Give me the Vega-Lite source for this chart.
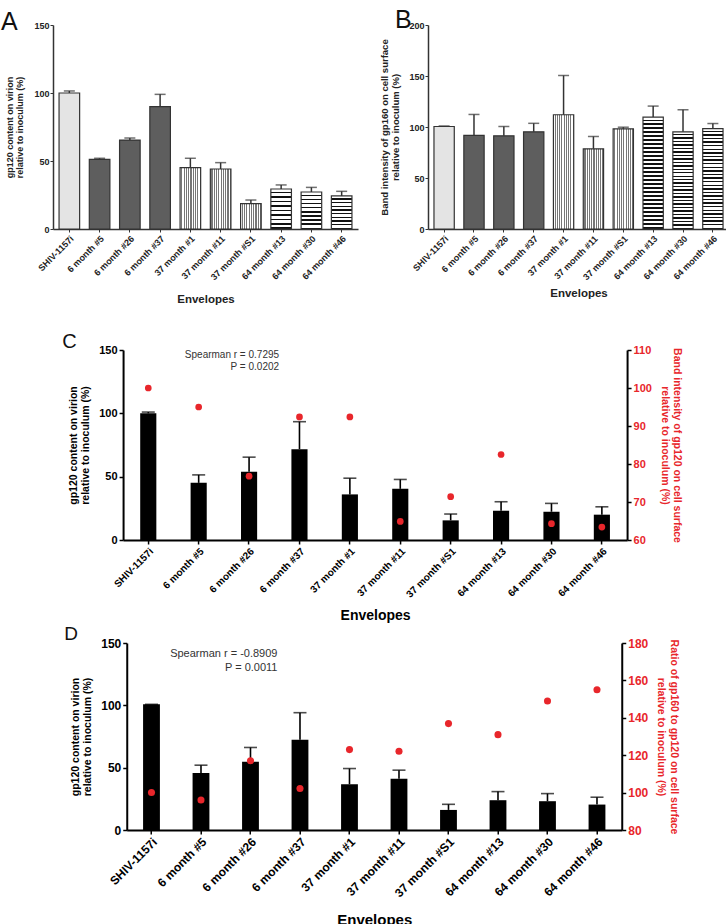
{
  "$schema": "https://vega.github.io/schema/vega-lite/v6.json",
  "background": "white",
  "padding": {"left": 0, "top": 8, "right": 0, "bottom": 0},
  "config": {"view": {"stroke": null}, "font": "Liberation Sans", "axis": {"grid": false}},
  "datasets": {
    "panelA": [
      {"env": "SHIV-1157i", "group": "SHIV", "value": 100, "upper": 101.5},
      {"env": "6 month #5", "group": "6 month", "value": 51.2, "upper": 52},
      {"env": "6 month #26", "group": "6 month", "value": 65.4, "upper": 66.9},
      {"env": "6 month #37", "group": "6 month", "value": 90, "upper": 99},
      {"env": "37 month #1", "group": "37 month", "value": 45.1, "upper": 52},
      {"env": "37 month #11", "group": "37 month", "value": 44.1, "upper": 48.8},
      {"env": "37 month #S1", "group": "37 month", "value": 18.6, "upper": 21.3},
      {"env": "64 month #13", "group": "64 month", "value": 29.4, "upper": 32.4},
      {"env": "64 month #30", "group": "64 month", "value": 27.2, "upper": 30.6},
      {"env": "64 month #46", "group": "64 month", "value": 24.3, "upper": 27.7}
    ],
    "panelB": [
      {"env": "SHIV-1157i", "group": "SHIV", "value": 100.5, "upper": 101},
      {"env": "6 month #5", "group": "6 month", "value": 91.7, "upper": 112.3},
      {"env": "6 month #26", "group": "6 month", "value": 91.3, "upper": 100.5},
      {"env": "6 month #37", "group": "6 month", "value": 95.3, "upper": 103.6},
      {"env": "37 month #1", "group": "37 month", "value": 112, "upper": 150.5},
      {"env": "37 month #11", "group": "37 month", "value": 78.6, "upper": 90.7},
      {"env": "37 month #S1", "group": "37 month", "value": 98.2, "upper": 99.8},
      {"env": "64 month #13", "group": "64 month", "value": 109.7, "upper": 120.5},
      {"env": "64 month #30", "group": "64 month", "value": 95.3, "upper": 116.9},
      {"env": "64 month #46", "group": "64 month", "value": 98.5, "upper": 103.4}
    ],
    "panelC": [
      {"env": "SHIV-1157i", "value": 100, "upper": 101, "red": 100},
      {"env": "6 month #5", "value": 45.1, "upper": 51.4, "red": 95},
      {"env": "6 month #26", "value": 53.8, "upper": 65.4, "red": 76.8},
      {"env": "6 month #37", "value": 71.7, "upper": 93.4, "red": 92.4},
      {"env": "37 month #1", "value": 36, "upper": 48.8, "red": 92.4},
      {"env": "37 month #11", "value": 40.4, "upper": 47.8, "red": 64.9},
      {"env": "37 month #S1", "value": 15.5, "upper": 20.5, "red": 71.4},
      {"env": "64 month #13", "value": 23.1, "upper": 30.2, "red": 82.5},
      {"env": "64 month #30", "value": 22.3, "upper": 28.9, "red": 64.3},
      {"env": "64 month #46", "value": 20, "upper": 26.2, "red": 63.4}
    ],
    "panelD": [
      {"env": "SHIV-1157i", "value": 100.8, "upper": 100.8, "red": 100.1},
      {"env": "6 month #5", "value": 45.8, "upper": 52, "red": 96},
      {"env": "6 month #26", "value": 54.7, "upper": 66.2, "red": 117},
      {"env": "6 month #37", "value": 72.4, "upper": 94.1, "red": 102.2},
      {"env": "37 month #1", "value": 36.7, "upper": 49.3, "red": 123},
      {"env": "37 month #11", "value": 41.2, "upper": 48, "red": 122.1},
      {"env": "37 month #S1", "value": 16.1, "upper": 20.6, "red": 136.9},
      {"env": "64 month #13", "value": 23.9, "upper": 30.8, "red": 131},
      {"env": "64 month #30", "value": 23.1, "upper": 29.2, "red": 149},
      {"env": "64 month #46", "value": 20.4, "upper": 26.3, "red": 155}
    ]
  },
  "spacing": 26,
  "center": false,
  "vconcat": [
    {
      "spacing": 21,
      "hconcat": [
        {
          "width": 305, "height": 204,
          "title": {"text": "A", "anchor": "start", "frame": "bounds", "fontSize": 25, "fontWeight": "normal", "color": "#111", "offset": -14, "dx": -5},
          "data": {"name": "panelA"},
          "encoding": {
            "x": {"field": "env", "type": "nominal",
              "scale": {"domain": ["SHIV-1157i","6 month #5","6 month #26","6 month #37","37 month #1","37 month #11","37 month #S1","64 month #13","64 month #30","64 month #46"], "paddingInner": 0.32, "paddingOuter": 0.2},
              "axis": {"title": "Envelopes", "labelAngle": -45, "labelFontSize": 9, "labelFontWeight": "bold", "labelColor": "#222", "labelPadding": 2, "tickSize": 3, "tickColor": "#333", "domainColor": "#333", "domainWidth": 1.5, "titleFontSize": 11.5, "titleFontWeight": "bold", "titleColor": "#222", "titlePadding": 12}},
            "y": {"field": "value", "type": "quantitative", "scale": {"domain": [0, 150], "nice": false},
              "axis": {"title": ["gp120 content on virion", "relative to inoculum (%)"], "values": [0, 50, 100, 150], "labelFontSize": 9, "labelFontWeight": "bold", "labelColor": "#222", "labelPadding": 1, "tickSize": 3, "tickColor": "#333", "domainColor": "#333", "domainWidth": 1.5, "titleFontSize": 9, "titleLineHeight": 10, "titleFontWeight": "bold", "titleColor": "#222", "titlePadding": 9}}
          },
          "layer": [
            {"transform": [{"filter": "datum.group === 'SHIV'"}], "mark": {"type": "bar", "fill": "#e4e4e4", "stroke": "#333", "strokeWidth": 1.2}},
            {"transform": [{"filter": "datum.group === '6 month'"}], "mark": {"type": "bar", "fill": "#5e5e5e", "stroke": "#333", "strokeWidth": 1.2}},
            {"transform": [{"filter": "datum.group === '37 month'"}], "mark": {"type": "bar", "stroke": "#333", "strokeWidth": 1.2,
              "fill": {"gradient": "linear", "x1": 0, "y1": 0, "x2": 1, "y2": 0, "stops": [
                {"offset": 0, "color": "#fff"}, {"offset": 0.0556, "color": "#fff"}, {"offset": 0.0556, "color": "#777"}, {"offset": 0.1111, "color": "#777"},
                {"offset": 0.1111, "color": "#fff"}, {"offset": 0.1667, "color": "#fff"}, {"offset": 0.1667, "color": "#777"}, {"offset": 0.2222, "color": "#777"},
                {"offset": 0.2222, "color": "#fff"}, {"offset": 0.2778, "color": "#fff"}, {"offset": 0.2778, "color": "#777"}, {"offset": 0.3333, "color": "#777"},
                {"offset": 0.3333, "color": "#fff"}, {"offset": 0.3889, "color": "#fff"}, {"offset": 0.3889, "color": "#777"}, {"offset": 0.4444, "color": "#777"},
                {"offset": 0.4444, "color": "#fff"}, {"offset": 0.5, "color": "#fff"}, {"offset": 0.5, "color": "#777"}, {"offset": 0.5556, "color": "#777"},
                {"offset": 0.5556, "color": "#fff"}, {"offset": 0.6111, "color": "#fff"}, {"offset": 0.6111, "color": "#777"}, {"offset": 0.6667, "color": "#777"},
                {"offset": 0.6667, "color": "#fff"}, {"offset": 0.7222, "color": "#fff"}, {"offset": 0.7222, "color": "#777"}, {"offset": 0.7778, "color": "#777"},
                {"offset": 0.7778, "color": "#fff"}, {"offset": 0.8333, "color": "#fff"}, {"offset": 0.8333, "color": "#777"}, {"offset": 0.8889, "color": "#777"},
                {"offset": 0.8889, "color": "#fff"}, {"offset": 0.9444, "color": "#fff"}, {"offset": 0.9444, "color": "#777"}, {"offset": 1, "color": "#777"}]}}},
            {"transform": [{"filter": "datum.group === '64 month'"}], "mark": {"type": "bar", "stroke": "#333", "strokeWidth": 1.2,
              "fill": {"gradient": "linear", "x1": 0, "y1": 0, "x2": 0, "y2": 1, "stops": [
                {"offset": 0, "color": "#fff"}, {"offset": 0.0722, "color": "#fff"}, {"offset": 0.0722, "color": "#111"}, {"offset": 0.1111, "color": "#111"},
                {"offset": 0.1111, "color": "#fff"}, {"offset": 0.1833, "color": "#fff"}, {"offset": 0.1833, "color": "#111"}, {"offset": 0.2222, "color": "#111"},
                {"offset": 0.2222, "color": "#fff"}, {"offset": 0.2944, "color": "#fff"}, {"offset": 0.2944, "color": "#111"}, {"offset": 0.3333, "color": "#111"},
                {"offset": 0.3333, "color": "#fff"}, {"offset": 0.4056, "color": "#fff"}, {"offset": 0.4056, "color": "#111"}, {"offset": 0.4444, "color": "#111"},
                {"offset": 0.4444, "color": "#fff"}, {"offset": 0.5167, "color": "#fff"}, {"offset": 0.5167, "color": "#111"}, {"offset": 0.5556, "color": "#111"},
                {"offset": 0.5556, "color": "#fff"}, {"offset": 0.6278, "color": "#fff"}, {"offset": 0.6278, "color": "#111"}, {"offset": 0.6667, "color": "#111"},
                {"offset": 0.6667, "color": "#fff"}, {"offset": 0.7389, "color": "#fff"}, {"offset": 0.7389, "color": "#111"}, {"offset": 0.7778, "color": "#111"},
                {"offset": 0.7778, "color": "#fff"}, {"offset": 0.85, "color": "#fff"}, {"offset": 0.85, "color": "#111"}, {"offset": 0.8889, "color": "#111"},
                {"offset": 0.8889, "color": "#fff"}, {"offset": 0.9611, "color": "#fff"}, {"offset": 0.9611, "color": "#111"}, {"offset": 1, "color": "#111"}]}}},
            {"mark": {"type": "rule", "color": "#333", "strokeWidth": 1.5}, "encoding": {"y2": {"field": "upper"}}},
            {"mark": {"type": "tick", "color": "#333", "thickness": 1.5, "size": 11}, "encoding": {"y": {"field": "upper", "type": "quantitative"}}}
          ]
        },
        {
          "width": 301, "height": 204,
          "title": {"text": "B", "anchor": "start", "frame": "bounds", "fontSize": 25, "fontWeight": "normal", "color": "#111", "offset": -12, "dx": 15},
          "data": {"name": "panelB"},
          "encoding": {
            "x": {"field": "env", "type": "nominal",
              "scale": {"domain": ["SHIV-1157i","6 month #5","6 month #26","6 month #37","37 month #1","37 month #11","37 month #S1","64 month #13","64 month #30","64 month #46"], "paddingInner": 0.32, "paddingOuter": 0.2},
              "axis": {"title": "Envelopes", "labelAngle": -45, "labelFontSize": 9, "labelFontWeight": "bold", "labelColor": "#222", "labelPadding": 2, "tickSize": 3, "tickColor": "#333", "domainColor": "#333", "domainWidth": 1.5, "titleFontSize": 11.5, "titleFontWeight": "bold", "titleColor": "#222", "titlePadding": 6}},
            "y": {"field": "value", "type": "quantitative", "scale": {"domain": [0, 200], "nice": false},
              "axis": {"title": ["Band intensity of gp160 on cell surface", "relative to inoculum (%)"], "values": [0, 50, 100, 150, 200], "labelFontSize": 9, "labelFontWeight": "bold", "labelColor": "#222", "labelPadding": 1, "tickSize": 3, "tickColor": "#333", "domainColor": "#333", "domainWidth": 1.5, "titleFontSize": 9.5, "titleLineHeight": 11, "titleFontWeight": "bold", "titleColor": "#222", "titlePadding": 8}}
          },
          "layer": [
            {"transform": [{"filter": "datum.group === 'SHIV'"}], "mark": {"type": "bar", "fill": "#e4e4e4", "stroke": "#333", "strokeWidth": 1.2}},
            {"transform": [{"filter": "datum.group === '6 month'"}], "mark": {"type": "bar", "fill": "#5e5e5e", "stroke": "#333", "strokeWidth": 1.2}},
            {"transform": [{"filter": "datum.group === '37 month'"}], "mark": {"type": "bar", "stroke": "#333", "strokeWidth": 1.2,
              "fill": {"gradient": "linear", "x1": 0, "y1": 0, "x2": 1, "y2": 0, "stops": [
                {"offset": 0, "color": "#fff"}, {"offset": 0.0556, "color": "#fff"}, {"offset": 0.0556, "color": "#777"}, {"offset": 0.1111, "color": "#777"},
                {"offset": 0.1111, "color": "#fff"}, {"offset": 0.1667, "color": "#fff"}, {"offset": 0.1667, "color": "#777"}, {"offset": 0.2222, "color": "#777"},
                {"offset": 0.2222, "color": "#fff"}, {"offset": 0.2778, "color": "#fff"}, {"offset": 0.2778, "color": "#777"}, {"offset": 0.3333, "color": "#777"},
                {"offset": 0.3333, "color": "#fff"}, {"offset": 0.3889, "color": "#fff"}, {"offset": 0.3889, "color": "#777"}, {"offset": 0.4444, "color": "#777"},
                {"offset": 0.4444, "color": "#fff"}, {"offset": 0.5, "color": "#fff"}, {"offset": 0.5, "color": "#777"}, {"offset": 0.5556, "color": "#777"},
                {"offset": 0.5556, "color": "#fff"}, {"offset": 0.6111, "color": "#fff"}, {"offset": 0.6111, "color": "#777"}, {"offset": 0.6667, "color": "#777"},
                {"offset": 0.6667, "color": "#fff"}, {"offset": 0.7222, "color": "#fff"}, {"offset": 0.7222, "color": "#777"}, {"offset": 0.7778, "color": "#777"},
                {"offset": 0.7778, "color": "#fff"}, {"offset": 0.8333, "color": "#fff"}, {"offset": 0.8333, "color": "#777"}, {"offset": 0.8889, "color": "#777"},
                {"offset": 0.8889, "color": "#fff"}, {"offset": 0.9444, "color": "#fff"}, {"offset": 0.9444, "color": "#777"}, {"offset": 1, "color": "#777"}]}}},
            {"transform": [{"filter": "datum.group === '64 month'"}], "mark": {"type": "bar", "stroke": "#333", "strokeWidth": 1.2,
              "fill": {"gradient": "linear", "x1": 0, "y1": 0, "x2": 0, "y2": 1, "stops": [
                {"offset": 0, "color": "#fff"}, {"offset": 0.0214, "color": "#fff"}, {"offset": 0.0214, "color": "#111"}, {"offset": 0.0357, "color": "#111"},
                {"offset": 0.0357, "color": "#fff"}, {"offset": 0.0571, "color": "#fff"}, {"offset": 0.0571, "color": "#111"}, {"offset": 0.0714, "color": "#111"},
                {"offset": 0.0714, "color": "#fff"}, {"offset": 0.0928, "color": "#fff"}, {"offset": 0.0928, "color": "#111"}, {"offset": 0.1071, "color": "#111"},
                {"offset": 0.1071, "color": "#fff"}, {"offset": 0.1285, "color": "#fff"}, {"offset": 0.1285, "color": "#111"}, {"offset": 0.1429, "color": "#111"},
                {"offset": 0.1429, "color": "#fff"}, {"offset": 0.1643, "color": "#fff"}, {"offset": 0.1643, "color": "#111"}, {"offset": 0.1786, "color": "#111"},
                {"offset": 0.1786, "color": "#fff"}, {"offset": 0.2, "color": "#fff"}, {"offset": 0.2, "color": "#111"}, {"offset": 0.2143, "color": "#111"},
                {"offset": 0.2143, "color": "#fff"}, {"offset": 0.2357, "color": "#fff"}, {"offset": 0.2357, "color": "#111"}, {"offset": 0.25, "color": "#111"},
                {"offset": 0.25, "color": "#fff"}, {"offset": 0.2714, "color": "#fff"}, {"offset": 0.2714, "color": "#111"}, {"offset": 0.2857, "color": "#111"},
                {"offset": 0.2857, "color": "#fff"}, {"offset": 0.3071, "color": "#fff"}, {"offset": 0.3071, "color": "#111"}, {"offset": 0.3214, "color": "#111"},
                {"offset": 0.3214, "color": "#fff"}, {"offset": 0.3428, "color": "#fff"}, {"offset": 0.3428, "color": "#111"}, {"offset": 0.3571, "color": "#111"},
                {"offset": 0.3571, "color": "#fff"}, {"offset": 0.3785, "color": "#fff"}, {"offset": 0.3785, "color": "#111"}, {"offset": 0.3929, "color": "#111"},
                {"offset": 0.3929, "color": "#fff"}, {"offset": 0.4143, "color": "#fff"}, {"offset": 0.4143, "color": "#111"}, {"offset": 0.4286, "color": "#111"},
                {"offset": 0.4286, "color": "#fff"}, {"offset": 0.45, "color": "#fff"}, {"offset": 0.45, "color": "#111"}, {"offset": 0.4643, "color": "#111"},
                {"offset": 0.4643, "color": "#fff"}, {"offset": 0.4857, "color": "#fff"}, {"offset": 0.4857, "color": "#111"}, {"offset": 0.5, "color": "#111"},
                {"offset": 0.5, "color": "#fff"}, {"offset": 0.5214, "color": "#fff"}, {"offset": 0.5214, "color": "#111"}, {"offset": 0.5357, "color": "#111"},
                {"offset": 0.5357, "color": "#fff"}, {"offset": 0.5571, "color": "#fff"}, {"offset": 0.5571, "color": "#111"}, {"offset": 0.5714, "color": "#111"},
                {"offset": 0.5714, "color": "#fff"}, {"offset": 0.5928, "color": "#fff"}, {"offset": 0.5928, "color": "#111"}, {"offset": 0.6071, "color": "#111"},
                {"offset": 0.6071, "color": "#fff"}, {"offset": 0.6285, "color": "#fff"}, {"offset": 0.6285, "color": "#111"}, {"offset": 0.6429, "color": "#111"},
                {"offset": 0.6429, "color": "#fff"}, {"offset": 0.6643, "color": "#fff"}, {"offset": 0.6643, "color": "#111"}, {"offset": 0.6786, "color": "#111"},
                {"offset": 0.6786, "color": "#fff"}, {"offset": 0.7, "color": "#fff"}, {"offset": 0.7, "color": "#111"}, {"offset": 0.7143, "color": "#111"},
                {"offset": 0.7143, "color": "#fff"}, {"offset": 0.7357, "color": "#fff"}, {"offset": 0.7357, "color": "#111"}, {"offset": 0.75, "color": "#111"},
                {"offset": 0.75, "color": "#fff"}, {"offset": 0.7714, "color": "#fff"}, {"offset": 0.7714, "color": "#111"}, {"offset": 0.7857, "color": "#111"},
                {"offset": 0.7857, "color": "#fff"}, {"offset": 0.8071, "color": "#fff"}, {"offset": 0.8071, "color": "#111"}, {"offset": 0.8214, "color": "#111"},
                {"offset": 0.8214, "color": "#fff"}, {"offset": 0.8428, "color": "#fff"}, {"offset": 0.8428, "color": "#111"}, {"offset": 0.8571, "color": "#111"},
                {"offset": 0.8571, "color": "#fff"}, {"offset": 0.8785, "color": "#fff"}, {"offset": 0.8785, "color": "#111"}, {"offset": 0.8929, "color": "#111"},
                {"offset": 0.8929, "color": "#fff"}, {"offset": 0.9143, "color": "#fff"}, {"offset": 0.9143, "color": "#111"}, {"offset": 0.9286, "color": "#111"},
                {"offset": 0.9286, "color": "#fff"}, {"offset": 0.95, "color": "#fff"}, {"offset": 0.95, "color": "#111"}, {"offset": 0.9643, "color": "#111"},
                {"offset": 0.9643, "color": "#fff"}, {"offset": 0.9857, "color": "#fff"}, {"offset": 0.9857, "color": "#111"}, {"offset": 1, "color": "#111"}]}}},
            {"mark": {"type": "rule", "color": "#333", "strokeWidth": 1.5}, "encoding": {"y2": {"field": "upper"}}},
            {"mark": {"type": "tick", "color": "#333", "thickness": 1.5, "size": 11}, "encoding": {"y": {"field": "upper", "type": "quantitative"}}}
          ]
        }
      ]
    },
    {
      "spacing": 1,
      "hconcat": [
        {"width": 8, "height": 10, "data": {"values": []}, "mark": "point"},
        {
          "spacing": 2,
          "center": true,
          "vconcat": [
            {
              "width": 504, "height": 190,
              "title": {"text": "C", "anchor": "start", "frame": "bounds", "fontSize": 20, "fontWeight": "normal", "color": "#111", "offset": -8, "dx": -6},
              "data": {"name": "panelC"},
              "encoding": {
                "x": {"field": "env", "type": "nominal",
                  "scale": {"domain": ["SHIV-1157i","6 month #5","6 month #26","6 month #37","37 month #1","37 month #11","37 month #S1","64 month #13","64 month #30","64 month #46"], "paddingInner": 0.68, "paddingOuter": 0.34},
                  "axis": {"title": "Envelopes", "labelAngle": -45, "labelFontSize": 10, "labelFontWeight": "bold", "labelColor": "#000", "labelPadding": 2, "tickSize": 4, "tickWidth": 1.5, "tickColor": "#000", "domainColor": "#000", "domainWidth": 2, "titleFontSize": 14, "titleFontWeight": "bold", "titleColor": "#000", "titlePadding": 9}}
              },
              "layer": [
                {
                  "layer": [
                    {"mark": {"type": "bar", "fill": "#000"},
                     "encoding": {"y": {"field": "value", "type": "quantitative", "scale": {"domain": [0, 150], "nice": false},
                       "axis": {"title": ["gp120 content on virion", "relative to inoculum (%)"], "values": [0, 50, 100, 150], "labelFontSize": 11, "labelFontWeight": "bold", "labelColor": "#000", "labelPadding": 2, "tickSize": 4, "tickWidth": 1.5, "tickColor": "#000", "domainColor": "#000", "domainWidth": 2, "titleFontSize": 10.5, "titleFontWeight": "bold", "titleColor": "#000", "titlePadding": 8}}}},
                    {"mark": {"type": "rule", "color": "#000", "strokeWidth": 1.6},
                     "encoding": {"y": {"field": "value", "type": "quantitative"}, "y2": {"field": "upper"}}},
                    {"mark": {"type": "tick", "color": "#000", "thickness": 1.6, "size": 13},
                     "encoding": {"y": {"field": "upper", "type": "quantitative"}}},
                    {"data": {"values": [{"note": "Spearman r = 0.7295\nP = 0.0202"}]},
                     "mark": {"type": "text", "align": "right", "baseline": "top", "lineBreak": "\n", "lineHeight": 12, "dx": 30, "fontSize": 10, "color": "#333"},
                     "encoding": {"x": {"datum": "6 month #26", "type": "nominal"}, "y": {"datum": 150, "type": "quantitative"}, "text": {"field": "note"}}}
                  ]
                },
                {"mark": {"type": "circle", "size": 45, "color": "#e8262b", "opacity": 1},
                 "encoding": {"y": {"field": "red", "type": "quantitative", "scale": {"domain": [60, 110], "nice": false},
                   "axis": {"orient": "right", "title": ["Band intensity of gp120 on cell surface", "relative to inoculum (%)"], "values": [60, 70, 80, 90, 100, 110], "labelFontSize": 11, "labelFontWeight": "bold", "labelColor": "#e8262b", "labelPadding": 2, "tickSize": 4, "tickWidth": 1.5, "tickColor": "#000", "domainColor": "#000", "domainWidth": 2, "titleFontSize": 10.5, "titleFontWeight": "bold", "titleColor": "#e8262b", "titlePadding": 8}}}}
              ],
              "resolve": {"scale": {"y": "independent"}}
            },
            {
              "width": 495, "height": 187,
              "title": {"text": "D", "anchor": "start", "frame": "bounds", "fontSize": 19, "fontWeight": "normal", "color": "#111", "offset": -7, "dx": -6},
              "data": {"name": "panelD"},
              "encoding": {
                "x": {"field": "env", "type": "nominal",
                  "scale": {"domain": ["SHIV-1157i","6 month #5","6 month #26","6 month #37","37 month #1","37 month #11","37 month #S1","64 month #13","64 month #30","64 month #46"], "paddingInner": 0.66, "paddingOuter": 0.33},
                  "axis": {"title": "Envelopes", "labelAngle": -45, "labelFontSize": 12, "labelFontWeight": "bold", "labelColor": "#000", "labelPadding": 2, "tickSize": 4, "tickWidth": 1.5, "tickColor": "#000", "domainColor": "#000", "domainWidth": 2, "titleFontSize": 15, "titleFontWeight": "bold", "titleColor": "#000", "titlePadding": 14}}
              },
              "layer": [
                {
                  "layer": [
                    {"mark": {"type": "bar", "fill": "#000"},
                     "encoding": {"y": {"field": "value", "type": "quantitative", "scale": {"domain": [0, 150], "nice": false},
                       "axis": {"title": ["gp120 content on virion", "relative to inoculum (%)"], "values": [0, 50, 100, 150], "labelFontSize": 12, "labelFontWeight": "bold", "labelColor": "#000", "labelPadding": 2, "tickSize": 4, "tickWidth": 1.5, "tickColor": "#000", "domainColor": "#000", "domainWidth": 2, "titleFontSize": 10.5, "titleFontWeight": "bold", "titleColor": "#000", "titlePadding": 8}}}},
                    {"mark": {"type": "rule", "color": "#000", "strokeWidth": 1.6},
                     "encoding": {"y": {"field": "value", "type": "quantitative"}, "y2": {"field": "upper"}}},
                    {"mark": {"type": "tick", "color": "#000", "thickness": 1.6, "size": 13},
                     "encoding": {"y": {"field": "upper", "type": "quantitative"}}},
                    {"data": {"values": [{"note": "Spearman r = -0.8909\nP = 0.0011"}]},
                     "mark": {"type": "text", "align": "right", "baseline": "top", "lineBreak": "\n", "lineHeight": 14, "dx": 27, "fontSize": 11, "color": "#333"},
                     "encoding": {"x": {"datum": "6 month #26", "type": "nominal"}, "y": {"datum": 146, "type": "quantitative"}, "text": {"field": "note"}}}
                  ]
                },
                {"mark": {"type": "circle", "size": 50, "color": "#e8262b", "opacity": 1},
                 "encoding": {"y": {"field": "red", "type": "quantitative", "scale": {"domain": [80, 180], "nice": false},
                   "axis": {"orient": "right", "title": ["Ratio of gp160 to gp120 on cell surface", "relative to inoculum (%)"], "values": [80, 100, 120, 140, 160, 180], "labelFontSize": 12, "labelFontWeight": "bold", "labelColor": "#e8262b", "labelPadding": 2, "tickSize": 4, "tickWidth": 1.5, "tickColor": "#000", "domainColor": "#000", "domainWidth": 2, "titleFontSize": 10.5, "titleFontWeight": "bold", "titleColor": "#e8262b", "titlePadding": 8}}}}
              ],
              "resolve": {"scale": {"y": "independent"}}
            }
          ]
        }
      ]
    }
  ]
}
